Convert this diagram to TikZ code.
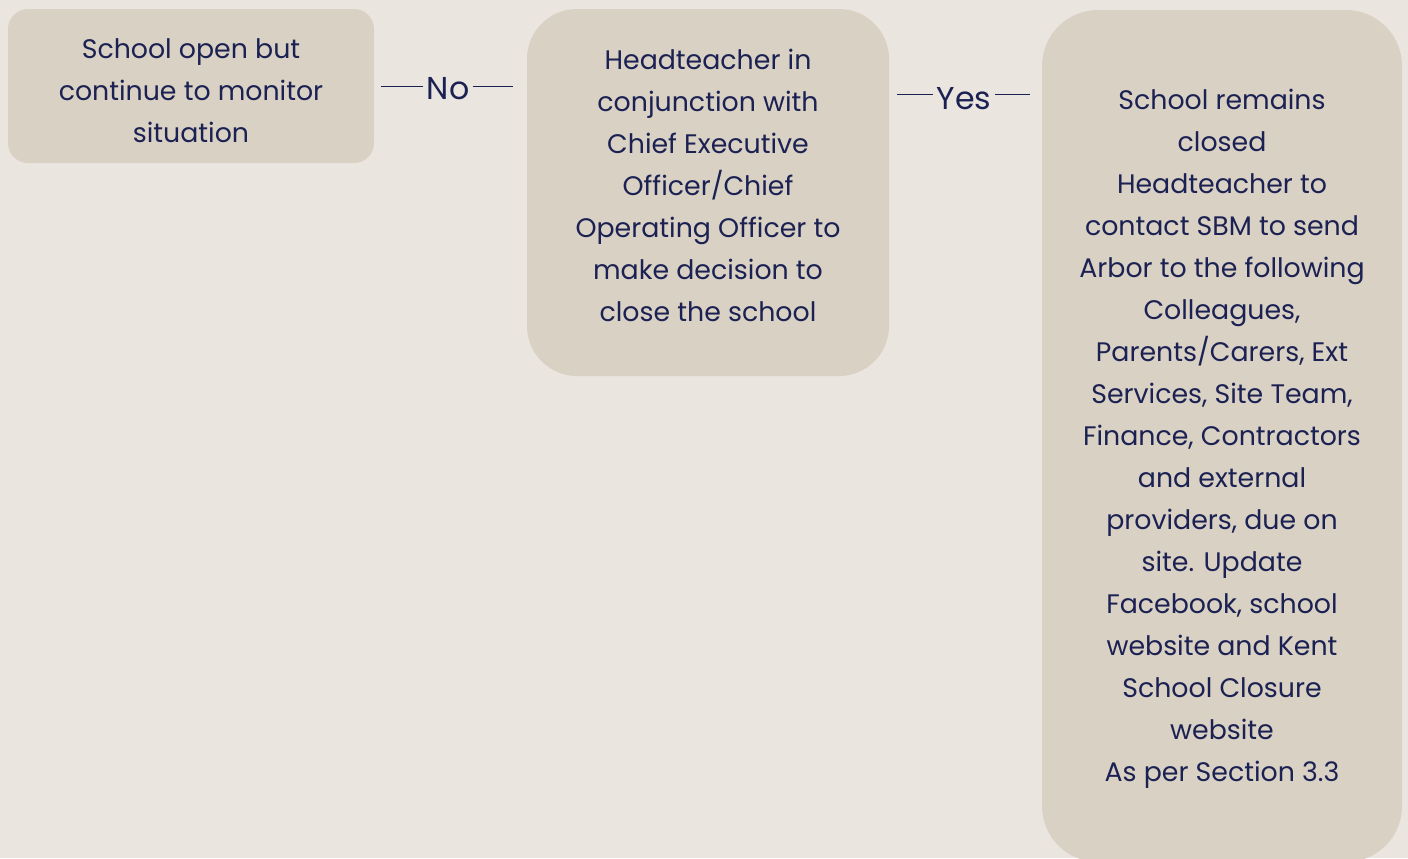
\documentclass[tikz,border=0pt]{standalone}
\usepackage{fontspec}
\setmainfont{Poppins}
\definecolor{bgcol}{HTML}{EAE5DF}
\definecolor{boxcol}{HTML}{D9D1C4}
\definecolor{inkcol}{HTML}{1B2152}
% centred lines, moved up or down inside their box
\newcommand{\boxlines}[2]{\raisebox{#1}[0pt][0pt]{\begin{tabular}{@{}c@{}}#2\end{tabular}}}
\begin{document}
\begin{tikzpicture}[
        x=0.5pt, y=-0.5pt,
        stepbox/.style={fill=boxcol, text=inkcol, inner sep=0pt,
                font=\fontsize{13.4}{21}\selectfont},
        answer/.style={text=inkcol, inner sep=1.5pt, font=\fontsize{15.8}{18}\selectfont},
        link/.style={draw=inkcol, line width=0.6pt}
    ]
    % page
    \fill[bgcol] (0,0) rectangle (1408,858);
    \useasboundingbox (0,0) rectangle (1408,858);

    % boxes
    \node[stepbox, minimum width=183pt, minimum height=77pt, rounded corners=10pt] (open) at (191,86)
        {\boxlines{-6.4pt}{School open but\\continue to monitor\\situation}};
    \node[stepbox, minimum width=181pt, minimum height=183.5pt, rounded corners=25pt] (decide) at (708,192.5)
        {\boxlines{-1pt}{Headteacher in\\conjunction with\\Chief Executive\\Officer/Chief\\Operating Officer to\\make decision to\\close the school}};
    \node[stepbox, minimum width=180pt, minimum height=426pt, rounded corners=28pt] (closed) at (1222,436)
        {\boxlines{-3.9pt}{School remains\\closed\\Headteacher to\\contact SBM to send\\Arbor to the following\\Colleagues,\\Parents/Carers, Ext\\Services, Site Team,\\Finance, Contractors\\and external\\providers, due on\\site. Update\\Facebook, school\\website and Kent\\School Closure\\website\\As per Section 3.3}};

    % answers
    \node[answer] (no) at (448,89) {No};
    \node[answer] (yes) at (964,99) {Yes};

    \draw[link, transform canvas={yshift=1.25pt}, shorten >=3.5pt] (no.west) -- (no.west -| open.east);
    \draw[link, transform canvas={yshift=1.25pt}, shorten >=7pt] (no.east) -- (no.east -| decide.west);
    \draw[link, transform canvas={yshift=2.25pt}, shorten >=4pt] (yes.west) -- (yes.west -| decide.east);
    \draw[link, transform canvas={yshift=2.25pt}, shorten >=6pt] (yes.east) -- (yes.east -| closed.west);
\end{tikzpicture}
\end{document}
